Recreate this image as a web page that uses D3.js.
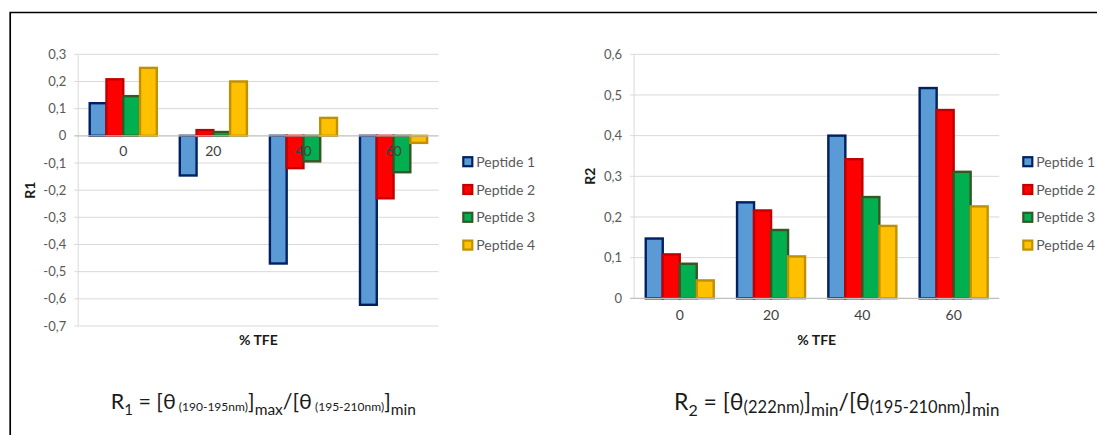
<!DOCTYPE html>
<html>
<head>
<meta charset="utf-8">
<script src="https://cdn.jsdelivr.net/npm/d3@7"></script>
<style>
  body { margin: 0; background: #fff; }
  svg { display: block; font-family: Lato, "Open Sans", sans-serif; }
</style>
</head>
<body>
<div id="chart"></div>
<script>
// data
var categories = ["0", "20", "40", "60"];
var series = ["Peptide 1", "Peptide 2", "Peptide 3", "Peptide 4"];

// R1 per peptide, one value per % TFE
var r1Values = [
  [0.120, -0.146, -0.470, -0.622],
  [0.208, 0.021, -0.119, -0.230],
  [0.146, 0.014, -0.094, -0.134],
  [0.250, 0.200, 0.066, -0.026]
];
var r1Ticks = [0.3, 0.2, 0.1, 0, -0.1, -0.2, -0.3, -0.4, -0.5, -0.6, -0.7];

// R2 per peptide
var r2Values = [
  [0.147, 0.236, 0.400, 0.517],
  [0.108, 0.216, 0.342, 0.463],
  [0.085, 0.168, 0.249, 0.311],
  [0.044, 0.103, 0.178, 0.226]
];
var r2Ticks = [0, 0.1, 0.2, 0.3, 0.4, 0.5, 0.6];

var fills = ["#5b9bd5", "#ff0000", "#00b050", "#ffc000"];
var strokes = ["#002060", "#c00000", "#375623", "#bf9000"];

var W = 1097, H = 435;
var svg = d3.select("#chart").append("svg")
  .attr("width", W)
  .attr("height", H);

// frame (left + top only)
svg.append("path")
  .attr("d", "M10.2," + H + "V12.5H" + W)
  .attr("fill", "none")
  .attr("stroke", "#000")
  .attr("stroke-width", 1.7);

var loc = d3.formatLocale({decimal: ",", thousands: ".", grouping: [3], currency: ["", ""], minus: "-"});
var fmt = function(v) { return Math.abs(v) < 1e-9 ? "0" : loc.format(".1f")(v); };

function drawChart(opt) {
  var g = svg.append("g");
  var y = d3.scaleLinear().domain(opt.domain).range([opt.bottom, opt.top]);
  var x = d3.scaleBand().domain(categories).range([opt.left, opt.right]);
  var band = x.bandwidth();
  var gap = band * 1.37 / 5.37;
  var x1 = d3.scaleBand().domain(series).range([gap / 2, band - gap / 2]);

  // gridlines
  g.selectAll("line.grid")
    .data(opt.ticks.filter(function(t) { return t !== 0; }))
    .enter().append("line")
      .attr("class", "grid")
      .attr("x1", opt.left - 4).attr("x2", opt.right)
      .attr("y1", function(d) { return y(d); })
      .attr("y2", function(d) { return y(d); })
      .attr("stroke", "#d9d9d9")
      .attr("stroke-width", 1);

  // y axis line
  g.append("line")
    .attr("x1", opt.left).attr("x2", opt.left)
    .attr("y1", opt.top).attr("y2", opt.bottom)
    .attr("stroke", "#d9d9d9");

  // y tick labels
  g.selectAll("text.ytick")
    .data(opt.ticks)
    .enter().append("text")
      .attr("class", "ytick")
      .attr("x", opt.left - 12)
      .attr("y", function(d) { return y(d); })
      .attr("dy", "0.35em")
      .attr("text-anchor", "end")
      .style("font-size", "13px")
      .style("fill", "#595959")
      .text(fmt);

  // bars
  var groups = g.selectAll("g.cat")
    .data(categories)
    .enter().append("g")
      .attr("class", "cat")
      .attr("transform", function(d) { return "translate(" + x(d) + ",0)"; });

  groups.selectAll("rect")
    .data(function(c, ci) {
      return series.map(function(s, si) { return {s: s, si: si, v: opt.values[si][ci]}; });
    })
    .enter().append("rect")
      .attr("x", function(d) { return x1(d.s); })
      .attr("y", function(d) { return y(Math.max(0, d.v)); })
      .attr("width", x1.bandwidth())
      .attr("height", function(d) { return Math.abs(y(d.v) - y(0)); })
      .attr("fill", function(d) { return fills[d.si]; })
      .attr("stroke", function(d) { return strokes[d.si]; })
      .attr("stroke-width", 2.4);

  // zero line
  g.append("line")
    .attr("x1", opt.left - 4).attr("x2", opt.right)
    .attr("y1", y(0)).attr("y2", y(0))
    .attr("stroke", "#bfbfbf")
    .attr("stroke-width", 1.3);

  // category labels
  g.append("g")
    .attr("transform", "translate(0," + y(0) + ")")
    .call(d3.axisBottom(x).tickSize(0).tickPadding(opt.catPad))
    .call(function(a) { a.select(".domain").remove(); })
    .selectAll("text")
      .style("font-family", "Lato, 'Open Sans', sans-serif")
      .style("font-size", "14px")
      .style("fill", "#404040");

  // axis titles
  g.append("text")
    .attr("x", (opt.left + opt.right) / 2)
    .attr("y", 345)
    .attr("text-anchor", "middle")
    .style("font-size", "14px")
    .style("font-weight", "bold")
    .style("fill", "#1a1a1a")
    .text("% TFE");

  g.append("text")
    .attr("transform", "translate(" + opt.titleX + "," + (opt.top + opt.bottom) / 2 + ") rotate(-90)")
    .attr("text-anchor", "middle")
    .attr("dy", "0.35em")
    .style("font-size", "14px")
    .style("font-weight", "bold")
    .style("fill", "#1a1a1a")
    .text(opt.title);

  // legend
  var leg = g.selectAll("g.leg")
    .data(series)
    .enter().append("g")
      .attr("class", "leg")
      .attr("transform", function(d, i) { return "translate(" + opt.legX + "," + (161.7 + i * 27.8) + ")"; });
  leg.append("rect")
    .attr("x", 1).attr("y", -4.5)
    .attr("width", 9).attr("height", 9)
    .attr("fill", function(d, i) { return fills[i]; })
    .attr("stroke", function(d, i) { return strokes[i]; })
    .attr("stroke-width", 2.2);
  leg.append("text")
    .attr("x", 14)
    .attr("dy", "0.36em")
    .style("font-size", "14px")
    .style("fill", "#595959")
    .text(function(d) { return d; });
}

drawChart({
  left: 78.2, right: 438.6, top: 54.3, bottom: 326,
  domain: [-0.7, 0.3], ticks: r1Ticks, values: r1Values,
  catPad: 10, title: "R1", titleX: 30, legX: 462.3
});

drawChart({
  left: 634.1, right: 999.3, top: 54.3, bottom: 298.3,
  domain: [0, 0.6], ticks: r2Ticks, values: r2Values,
  catPad: 12, title: "R2", titleX: 590, legX: 1022.3
});

// formulas
var f1 = svg.append("text")
  .attr("x", 110.7).attr("y", 409)
  .style("font-size", "21.5px")
  .style("fill", "#1a1a1a");
f1.append("tspan").text("R");
f1.append("tspan").attr("dy", 6).style("font-size", "15px").text("1");
f1.append("tspan").attr("dy", -6).text(" = [θ");
f1.append("tspan").attr("dy", 2).style("font-size", "12px").text(" (190-195nm)");
f1.append("tspan").attr("dy", -2).text("]");
f1.append("tspan").attr("dy", 6).style("font-size", "15.5px").text("max");
f1.append("tspan").attr("dy", -6).text("/[θ");
f1.append("tspan").attr("dy", 2).style("font-size", "12px").text(" (195-210nm)");
f1.append("tspan").attr("dy", -2).text("]");
f1.append("tspan").attr("dy", 6).style("font-size", "15.5px").text("min");

var f2 = svg.append("text")
  .attr("x", 674).attr("y", 410)
  .style("font-size", "23px")
  .style("fill", "#1a1a1a");
f2.append("tspan").text("R");
f2.append("tspan").attr("dy", 6).style("font-size", "16px").text("2");
f2.append("tspan").attr("dy", -6).text(" = [θ");
f2.append("tspan").attr("dy", 3).style("font-size", "16.5px").text("(222nm)");
f2.append("tspan").attr("dy", -3).text("]");
f2.append("tspan").attr("dy", 6).style("font-size", "17px").text("min");
f2.append("tspan").attr("dy", -6).text("/[θ");
f2.append("tspan").attr("dy", 3).style("font-size", "16.5px").text("(195-210nm)");
f2.append("tspan").attr("dy", -3).text("]");
f2.append("tspan").attr("dy", 6).style("font-size", "17px").text("min");
</script>
</body>
</html>
